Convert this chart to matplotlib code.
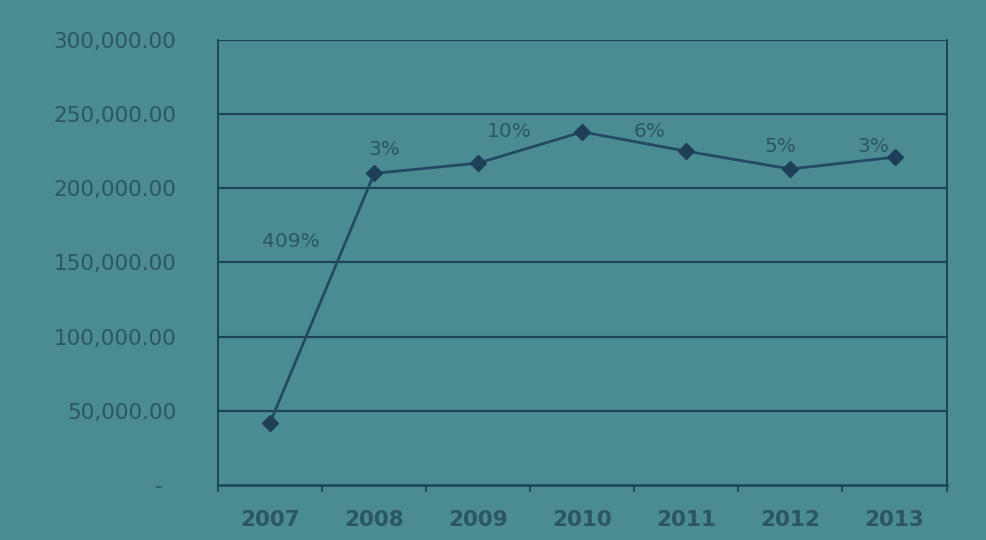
import numpy as np
import matplotlib.pyplot as plt

# values
years = ["2007", "2008", "2009", "2010", "2011", "2012", "2013"]
values = [42000, 210000, 217000, 238000, 225000, 213000, 221000]
growth_labels = ["409%", "3%", "10%", "6%", "5%", "3%"]
label_x = [0.2, 1.1, 2.3, 3.65, 4.9, 5.8]
label_y = [164000, 226000, 238000, 238000, 228000, 228000]

y_ticks = [0, 50000, 100000, 150000, 200000, 250000, 300000]
y_tick_labels = ["-  ", "50,000.00", "100,000.00", "150,000.00",
                 "200,000.00", "250,000.00", "300,000.00"]

bg = "#4b8c93"
ink = "#1e4555"
text_col = "#2c5663"

fig = plt.figure(figsize=(9.87, 5.4), dpi=100, facecolor=bg)
ax = fig.add_axes([0.221, 0.102, 0.738, 0.824])
ax.set_facecolor(bg)

x = np.arange(len(years))
ax.plot(x, values, color="#244a63", linewidth=2, marker="D", markersize=8,
        markerfacecolor="#1d3f57", markeredgecolor="#1d3f57", zorder=3)

for lx, ly, lab in zip(label_x, label_y, growth_labels):
    ax.text(lx, ly, lab, ha="center", va="center", fontsize=14.5,
            color=text_col, family="DejaVu Sans")

ax.set_xlim(-0.5, 6.5)
ax.set_ylim(0, 300000)
ax.set_yticks(y_ticks)
ax.set_yticklabels(y_tick_labels)
ax.set_xticks(x)
ax.set_xticklabels(years)
ax.set_xticks(np.arange(-0.5, 7, 1), minor=True)

for yv in y_ticks[1:]:
    ax.axhline(yv, color=ink, linewidth=1.6, zorder=1)

ax.spines["top"].set_visible(False)
for side, lw in [("left", 1.4), ("right", 1.4), ("bottom", 1.8)]:
    ax.spines[side].set_color(ink)
    ax.spines[side].set_linewidth(lw)

ax.tick_params(axis="y", length=0, pad=30, labelsize=15.5, labelcolor=text_col)
ax.tick_params(axis="x", which="major", length=0, pad=18, labelsize=15.5,
               labelcolor=text_col)
ax.tick_params(axis="x", which="minor", length=5, color=ink, width=1.2)
for t in ax.get_xticklabels():
    t.set_fontweight("bold")

fig.savefig("out.png", dpi=100, facecolor=bg)
